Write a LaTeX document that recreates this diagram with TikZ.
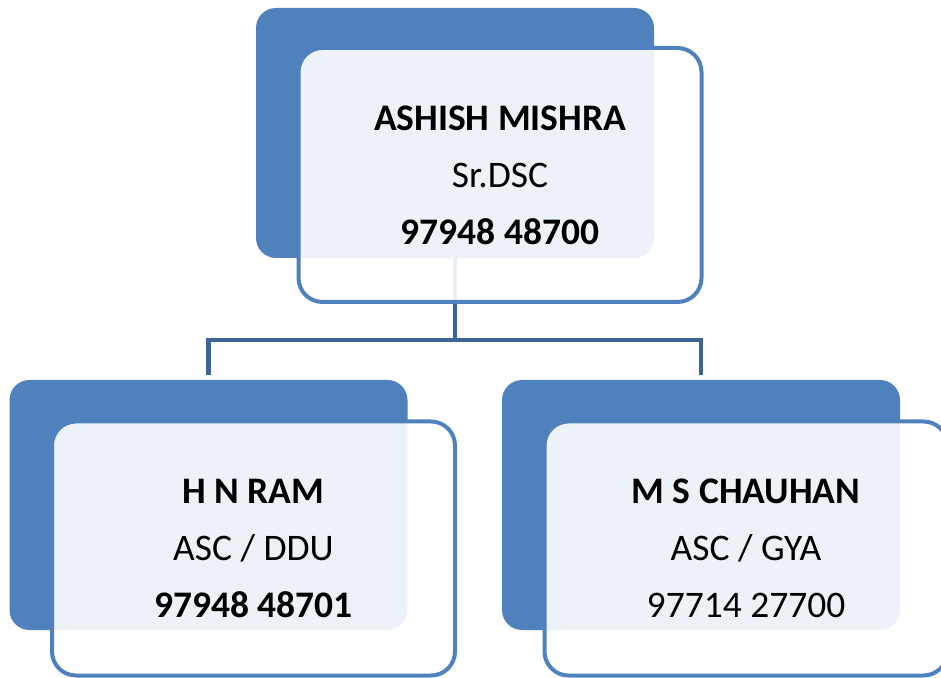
\documentclass[tikz,border=0pt]{standalone}
\usepackage{fontspec}
\setmainfont{Carlito}
\usetikzlibrary{calc,positioning}
\definecolor{cardblue}{HTML}{4F81BD}
\definecolor{linkblue}{HTML}{3C6496}

\begin{document}
\begin{tikzpicture}[
  x=1pt, y=1pt,
  back/.style={fill=cardblue, rounded corners=20pt, minimum width=398pt, minimum height=250pt, inner sep=0pt},
  card/.style={draw=cardblue, line width=4pt, fill=white, fill opacity=0.9, text opacity=1, rounded corners=24pt, minimum width=403pt, minimum height=254pt, align=center, inner sep=0pt},
  link/.style={draw=linkblue, line width=4.5pt},
  font=\fontsize{37.5}{57}\selectfont,
]
\useasboundingbox (0,0) rectangle (941,677);

\node[back] (topback) at (455,544) {};
\node[back] (ramback) at (208.5,172) {};
\node[back] (chauback) at (701,172) {};

\draw[link] (topback.south) -- ++(0,-82) coordinate (fork) -| ($(ramback.north)+(0,5)$);
\draw[link] (fork) -| ($(chauback.north)+(0,5)$);

\node[card] (top) at ($(topback.center)+(45,-42)$) {\textbf{ASHISH MISHRA}\\Sr.DSC\\\textbf{97948 48700}};
\node[card] (ram) at ($(ramback.center)+(45,-43.5)$) {\textbf{H N RAM}\\ASC / DDU\\\textbf{97948 48701}};
\node[card] (chau) at ($(chauback.center)+(45,-43.5)$) {\textbf{M S CHAUHAN}\\ASC / GYA\\97714 27700};
\end{tikzpicture}
\end{document}
